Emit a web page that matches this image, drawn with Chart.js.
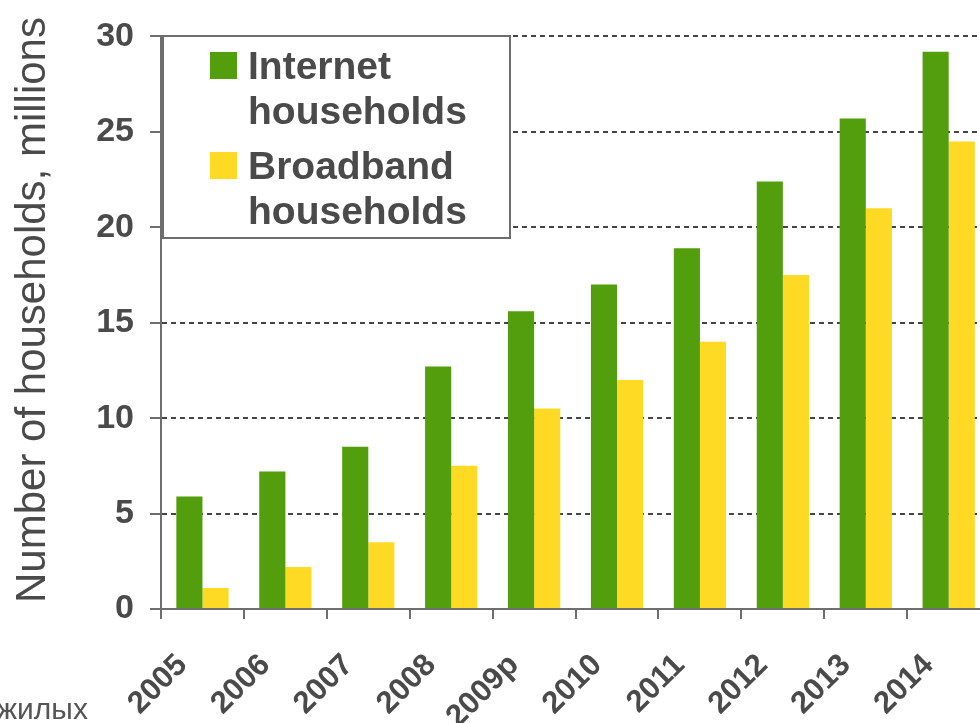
<!DOCTYPE html>
<html>
<head>
<meta charset="utf-8">
<script src="https://cdn.jsdelivr.net/npm/chart.js@4.4.1/dist/chart.umd.min.js"></script>
<style>
  html, body { margin: 0; padding: 0; background: #fff; overflow: hidden; width: 980px; height: 723px; }
  #wrap { position: absolute; left: 0; top: 0; width: 1003px; height: 790px; }
  #note { position: absolute; left: -3px; top: 694px; font: 30px/30px "Liberation Sans", Arial, sans-serif; color: #555; }
</style>
</head>
<body>
<div id="wrap"><canvas id="chart"></canvas></div>
<div id="note">жилых</div>
<script>
// данные с графика (млн домохозяйств)
const years = ['2005', '2006', '2007', '2008', '2009p', '2010', '2011', '2012', '2013', '2014'];
const internetHouseholds = [5.9, 7.2, 8.5, 12.7, 15.6, 17.0, 18.9, 22.4, 25.7, 29.2];
const broadbandHouseholds = [1.1, 2.2, 3.5, 7.5, 10.5, 12.0, 14.0, 17.5, 21.0, 24.5];
const seriesNames = [['Internet', 'households'], ['Broadband', 'households']];
const yTicks = [0, 5, 10, 15, 20, 25, 30];
const yTitle = 'Number of households, millions';

const GREEN = '#529E0C';
const YELLOW = '#FEDA24';
const TEXT = '#4a4a4a';
const FONT = '"Liberation Sans", Arial, sans-serif';
const H = 790;

// legenda sendiri: kotak dengan label dua baris, plus judul sumbu y
const boxLegend = {
  id: 'boxLegend',
  afterDraw(chart) {
    const ctx = chart.ctx;
    const x0 = 163, y0 = 36, x1 = 510, y1 = 238;
    ctx.save();
    ctx.fillStyle = '#fff';
    ctx.fillRect(x0, y0, x1 - x0, y1 - y0);
    ctx.strokeStyle = '#6e6e6e';
    ctx.lineWidth = 2;
    ctx.strokeRect(x0, y0, x1 - x0, y1 - y0);
    ctx.font = 'bold 39px ' + FONT;
    ctx.textBaseline = 'alphabetic';
    chart.data.datasets.forEach((ds, i) => {
      const top = 52 + i * 100;
      ctx.fillStyle = ds.backgroundColor;
      ctx.fillRect(210, top, 27, 27);
      ctx.fillStyle = TEXT;
      seriesNames[i].forEach((t, j) => ctx.fillText(t, 248, top + 27 + j * 45));
    });
    // judul sumbu y
    ctx.translate(33, 310);
    ctx.rotate(-Math.PI / 2);
    ctx.font = '42px ' + FONT;
    ctx.textAlign = 'center';
    ctx.textBaseline = 'middle';
    ctx.fillText(yTitle, 0, 0);
    ctx.restore();
  }
};

new Chart(document.getElementById('chart'), {
  type: 'bar',
  data: {
    labels: years,
    datasets: [{
      label: seriesNames[0].join(' '),
      data: internetHouseholds,
      backgroundColor: GREEN,
      categoryPercentage: 0.63,
      barPercentage: 1.0
    }, {
      label: seriesNames[1].join(' '),
      data: broadbandHouseholds,
      backgroundColor: YELLOW,
      categoryPercentage: 0.63,
      barPercentage: 1.0
    }]
  },
  options: {
    responsive: true,
    maintainAspectRatio: false,
    animation: false,
    layout: { padding: { left: 0, top: 36, right: 0, bottom: 0 } },
    plugins: { legend: { display: false }, tooltip: { enabled: false } },
    scales: {
      x: {
        afterFit(s) { s.height = H - 609; },
        grid: {
          offset: true,
          drawOnChartArea: false,
          drawTicks: true,
          tickLength: 10,
          color: '#6e6e6e',
          lineWidth: 2
        },
        border: { color: '#6e6e6e', width: 2 },
        ticks: {
          minRotation: 45,
          maxRotation: 45,
          padding: 28,
          labelOffset: -20,
          color: TEXT,
          font: { family: FONT, size: 31, weight: 'bold' }
        }
      },
      y: {
        min: 0,
        max: 30,
        afterFit(s) { s.width = 161; },
        afterBuildTicks(s) { s.ticks = yTicks.map(v => ({ value: v })); },
        grid: {
          color: '#444',
          lineWidth: 2,
          tickBorderDash: [1, 0],
          tickColor: '#6e6e6e',
          tickWidth: 2,
          tickLength: 11
        },
        border: { color: '#6e6e6e', width: 2, dash: [5, 4] },
        ticks: {
          padding: 16,
          color: TEXT,
          font: { family: FONT, size: 34, weight: 'bold' }
        }
      }
    }
  },
  plugins: [boxLegend]
});
</script>
</body>
</html>
